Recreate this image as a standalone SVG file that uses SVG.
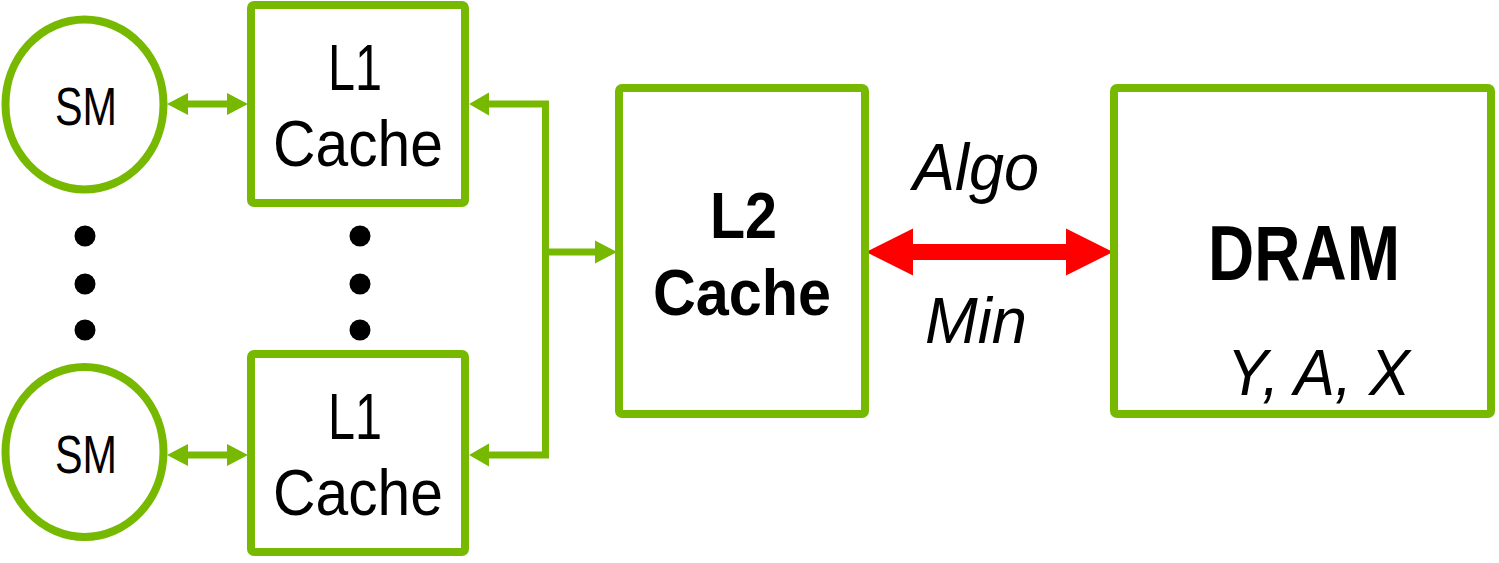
<svg xmlns="http://www.w3.org/2000/svg" width="1499" height="563" viewBox="0 0 1499 563">
<style>
.box{fill:#fff;stroke:#76b900;stroke-width:8}
.ln{fill:none;stroke:#76b900;stroke-width:7}
.gh{fill:#76b900}
.rh{fill:#ff0000}
.t{font-family:"Liberation Sans",Arial,sans-serif;fill:#000;text-anchor:middle}
.b{font-weight:bold}
.i{font-style:italic}
</style>
<g id="connectors">
<line class="ln" x1="186" y1="104" x2="229" y2="104"/>
<polygon class="gh" points="167,104 188,93 188,115"/>
<polygon class="gh" points="248,104 227,93 227,115"/>
<line class="ln" x1="186" y1="455" x2="229" y2="455"/>
<polygon class="gh" points="167,455 188,444 188,466"/>
<polygon class="gh" points="248,455 227,444 227,466"/>
<path class="ln" d="M487,104H545.5V455H487"/>
<polygon class="gh" points="469,104 489,92.5 489,115.5"/>
<polygon class="gh" points="469,455 489,443.5 489,466.5"/>
<line class="ln" x1="545.5" y1="252" x2="597" y2="252"/>
<polygon class="gh" points="617,252 595,240.5 595,263.5"/>
<line x1="911" y1="252" x2="1068" y2="252" stroke="#ff0000" stroke-width="16"/>
<polygon class="rh" points="866,252 913,228.5 913,275.5"/>
<polygon class="rh" points="1113,252 1066,228.5 1066,275.5"/>
</g>
<g id="sm1"><ellipse class="box" cx="84.5" cy="104.5" rx="79" ry="85"/><text class="t" x="86" y="125" font-size="54" textLength="62" lengthAdjust="spacingAndGlyphs">SM</text></g>
<g id="sm2"><ellipse class="box" cx="84.5" cy="452" rx="79" ry="85"/><text class="t" x="86" y="473" font-size="54" textLength="62" lengthAdjust="spacingAndGlyphs">SM</text></g>
<g id="l1a"><rect class="box" x="251" y="5" width="214" height="198" rx="3"/><text class="t" x="355" y="90" font-size="65" textLength="54" lengthAdjust="spacingAndGlyphs">L1</text><text class="t" x="358" y="166" font-size="65" textLength="170" lengthAdjust="spacingAndGlyphs">Cache</text></g>
<g id="l1b"><rect class="box" x="251" y="354" width="214" height="198" rx="3"/><text class="t" x="355" y="439" font-size="65" textLength="54" lengthAdjust="spacingAndGlyphs">L1</text><text class="t" x="358" y="515" font-size="65" textLength="170" lengthAdjust="spacingAndGlyphs">Cache</text></g>
<g id="dots" fill="#000">
<circle cx="85" cy="236" r="10.5"/><circle cx="85" cy="284" r="10.5"/><circle cx="85" cy="330" r="10.5"/>
<circle cx="360" cy="236" r="10.5"/><circle cx="360" cy="284" r="10.5"/><circle cx="360" cy="330" r="10.5"/>
</g>
<g id="l2"><rect class="box" x="619" y="88" width="246" height="326" rx="3"/><text class="t b" x="743.5" y="238" font-size="64" textLength="67" lengthAdjust="spacingAndGlyphs">L2</text><text class="t b" x="742" y="315" font-size="64" textLength="178" lengthAdjust="spacingAndGlyphs">Cache</text></g>
<g id="labels"><text class="t i" x="976" y="190" font-size="66" textLength="126" lengthAdjust="spacingAndGlyphs">Algo</text><text class="t i" x="976" y="343" font-size="64" textLength="102" lengthAdjust="spacingAndGlyphs">Min</text></g>
<g id="dram"><rect class="box" x="1114" y="88" width="377" height="326" rx="3"/><text class="t b" x="1304" y="280" font-size="77" textLength="192" lengthAdjust="spacingAndGlyphs">DRAM</text><text class="t i" x="1318.5" y="395" font-size="64" textLength="183" lengthAdjust="spacingAndGlyphs">Y, A, X</text></g>
</svg>
